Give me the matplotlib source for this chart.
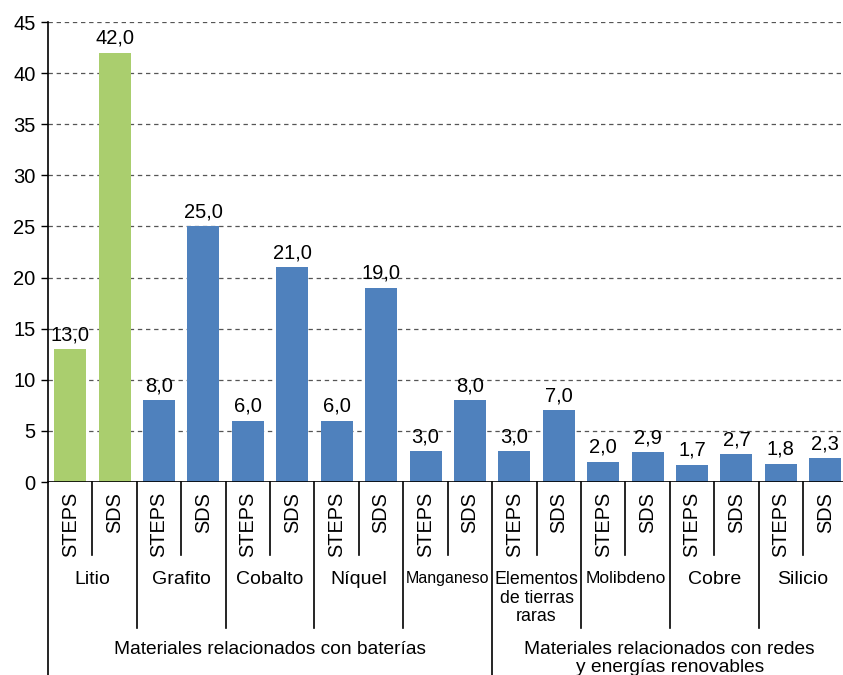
import matplotlib
matplotlib.use("Agg")
import matplotlib.pyplot as plt
from matplotlib.transforms import blended_transform_factory

plt.rcParams['font.family'] = ['Liberation Sans', 'DejaVu Sans']

materials = ["Litio", "Grafito", "Cobalto", "Níquel", "Manganeso",
             "Elementos\nde tierras\nraras", "Molibdeno", "Cobre", "Silicio"]
label_sizes = [14, 14, 14, 14, 11.5, 12.8, 12.6, 14, 14]
scenarios = ["STEPS", "SDS"]
steps_vals = [13.0, 8.0, 6.0, 6.0, 3.0, 3.0, 2.0, 1.7, 1.8]
sds_vals = [42.0, 25.0, 21.0, 19.0, 8.0, 7.0, 2.9, 2.7, 2.3]
groups = ["Materiales relacionados con baterías",
          "Materiales relacionados con redes\ny energías renovables"]
group_sizes = [5, 4]
yticks = [0, 5, 10, 15, 20, 25, 30, 35, 40, 45]

green = "#AACE6E"
blue = "#4F81BD"

W, H = 843, 675
fig = plt.figure(figsize=(W / 100, H / 100), dpi=100)
ax = fig.add_axes([48 / W, 1 - 482 / H, 1 - 48 / W, (482 - 22) / H])


def fy(px):
    return 1 - px / H


bar_w = 0.72
for i, (s, d) in enumerate(zip(steps_vals, sds_vals)):
    c = green if i == 0 else blue
    for j, v in enumerate((s, d)):
        x = 2 * i + j
        ax.bar(x, v, width=bar_w, color=c, zorder=3)
        ax.annotate(f"{v:.1f}".replace(".", ","), (x, v), xytext=(0, 3.5),
                    textcoords="offset points", ha="center", va="bottom",
                    fontsize=14.5, zorder=4)

n = 2 * len(materials)
right = n - 0.6
ax.set_xlim(-0.5, right)
ax.set_ylim(0, 45)
ax.set_yticks(yticks)
ax.tick_params(axis="y", direction="out", length=5, width=1, pad=4,
               labelsize=14.5)
ax.set_xticks([])
for sp in ("top", "right", "bottom"):
    ax.spines[sp].set_visible(False)
ax.spines["left"].set_linewidth(1.2)
ax.yaxis.grid(True, linestyle=(0, (3.5, 3)), color="#555555", linewidth=0.9,
              zorder=0)
ax.axhline(0, color="black", linewidth=1.2, zorder=5)

tr = blended_transform_factory(ax.transData, fig.transFigure)

# scenario labels and separators
for k in range(n):
    ax.text(k, fy(492), scenarios[k % 2], rotation=90, ha="center",
            va="top", fontsize=14.3, transform=tr)
for k in range(n - 1):
    xb = k + 0.5
    if k % 2 == 0:
        y1 = 555
    elif k == 2 * group_sizes[0] - 1:
        y1 = 676
    else:
        y1 = 628
    ax.plot([xb, xb], [fy(482), fy(y1)], color="black", linewidth=1.2,
            transform=tr, clip_on=False)
ax.plot([-0.5, -0.5], [fy(482), fy(676)], color="black", linewidth=1.2,
        transform=tr, clip_on=False)

# material labels
for i, (m, fs) in enumerate(zip(materials, label_sizes)):
    ax.text(2 * i + 0.5, fy(571), m, ha="center", va="top", fontsize=fs,
            linespacing=1.12, transform=tr)

# group labels
start = -0.5
for g, size in zip(groups, group_sizes):
    end = min(start + 2 * size, n - 0.5)
    ax.text((start + end) / 2, fy(641), g, ha="center", va="top",
            fontsize=13.8, linespacing=1.05, transform=tr)
    start += 2 * size

fig.savefig("out.png", dpi=100)
